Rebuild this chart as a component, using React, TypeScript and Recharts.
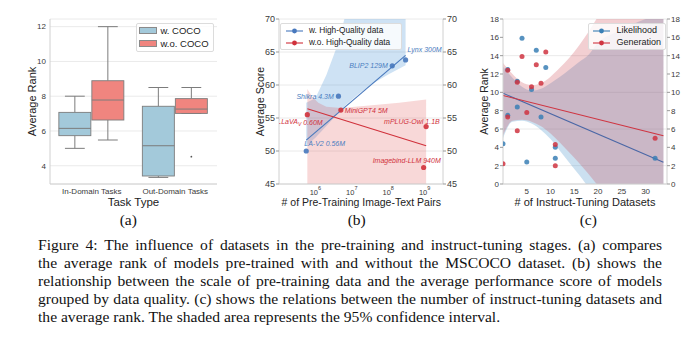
import React from 'react';
import { ComposedChart, Bar, XAxis, YAxis, CartesianGrid, Scatter, Line, Area } from 'recharts';

const SANS = '"Liberation Sans", Arial, Helvetica, sans-serif';
const SERIF = '"Liberation Serif", "Times New Roman", Times, serif';
const GRID = '#e8e8e8';
const FRAME = '#d0d0d0';
const TICK = '#3a3a3a';
const TITLE = '#222';

// ---------- (a) box plot ----------
const taskTypes = ['In-Domain Tasks', 'Out-Domain Tasks'];
const wCocoMin = [5.0, 3.33];
const wCocoQ1 = [5.73, 3.41];
const wCocoMedian = [6.15, 5.15];
const wCocoQ3 = [7.07, 7.42];
const wCocoMax = [8.0, 8.5];
const wCocoOutliers: number[][] = [[], []];
const woCocoMin = [5.48, 7.01];
const woCocoQ1 = [6.63, 7.01];
const woCocoMedian = [7.78, 7.26];
const woCocoQ3 = [8.89, 7.86];
const woCocoMax = [12.0, 8.5];
const woCocoOutliers: number[][] = [[], [4.52]];
const rankTicksA = [4, 6, 8, 10, 12];

// ---------- (b) pre-training scale ----------
const hqNames = ['LA-V2 0.56M', 'Shikra 4.3M', 'BLIP2 129M', 'Lynx 300M'];
const hqPairs = [5.6e5, 4.3e6, 1.29e8, 3.0e8];
const hqScore = [50.0, 58.3, 62.9, 63.8];
const lqNames = ['LLaVA_V 0.60M', 'MiniGPT4 5M', 'mPLUG-Owl 1.1B', 'Imagebind-LLM 940M'];
const lqPairs = [6.0e5, 5.0e6, 1.1e9, 9.4e8];
const lqScore = [55.5, 56.2, 53.7, 47.5];
const hqFitPairs = [5.6e5, 3.0e8];
const hqFitScore = [51.65, 64.5];
const lqFitPairs = [6.0e5, 1.1e9];
const lqFitScore = [56.4, 50.8];
const hqBandPairs = [5.6e5, 1e6, 2e6, 4e6, 7e6, 1.5e7, 4e7, 1e8, 3e8];
const hqBandLow = [50.8, 52.0, 53.8, 55.6, 57.0, 58.6, 60.3, 61.6, 63.0];
const hqBandHigh = [57.3, 58.0, 61.5, 66.0, 71.0, 76.0, 83.0, 89.0, 96.0];
const lqBandPairs = [6e5, 8e5, 1.2e6, 2e6, 5e6, 3e7, 2e8, 1.1e9];
const lqBandLow = [38, 38, 38, 38, 38, 38, 38, 38];
const lqBandHigh = [59.4, 58.3, 57.3, 56.7, 56.5, 56.9, 57.3, 57.8];
const scoreTicks = [45, 50, 55, 60, 65, 70];
const pairTicks = [1e6, 1e7, 1e8, 1e9];

// ---------- (c) instruct-tuning datasets ----------
const likeDatasets = [0, 1, 1, 3, 3, 4, 5, 6, 7, 8, 9, 11, 11, 32];
const likeRank = [4.4, 7.5, 12.5, 8.4, 11.2, 15.9, 2.4, 10.3, 14.6, 7.3, 12.7, 4.0, 2.8, 2.8];
const genDatasets = [0, 1, 1, 3, 3, 4, 5, 6, 7, 8, 9, 11, 11, 32];
const genRank = [2.2, 12.4, 7.3, 11.1, 5.8, 13.9, 7.8, 10.6, 13.0, 11.0, 14.4, 4.3, 2.0, 5.0];
const fitDatasets = [0, 33.75];
const likeFitRank = [9.9, 2.37];
const genFitRank = [9.65, 5.27];
const bandDatasets = [0, 2, 4, 6, 8, 10, 12, 14, 16, 18, 20, 24, 28, 33.75];
const likeBandLow = [5.0, 6.8, 6.9, 6.6, 5.9, 4.9, 3.6, 2.3, 1.0, -0.4, -1.9, -5, -8.5, -14];
const likeBandHigh = [12.8, 11.6, 10.6, 10.2, 10.4, 11.0, 11.7, 12.5, 13.3, 14.1, 15.4, 16.6, 17.6, 18.6];
const genBandLow = [5.3, 6.9, 7.0, 6.8, 6.3, 5.5, 4.5, 3.4, 2.3, 1.1, -0.2, -2.8, -5.5, -9.5];
const genBandHigh = [13.2, 12.0, 11.1, 10.8, 11.0, 11.7, 12.7, 13.8, 15.1, 16.6, 18.3, 22, 26, 32];
const rankTicksC = [0, 2, 4, 6, 8, 10, 12, 14, 16, 18];
const datasetTicks = [5, 10, 15, 20, 25, 30];

const captionLines = [
  'Figure 4:  The influence of datasets in the pre-training and instruct-tuning stages.  (a) compares',
  'the average rank of models pre-trained with and without the MSCOCO dataset.  (b) shows the',
  'relationship between the scale of pre-training data and the average performance score of models',
  'grouped by data quality. (c) shows the relations between the number of instruct-tuning datasets and',
  'the average rank. The shaded area represents the 95% confidence interval.',
];

// ---------- built tables ----------
const boxData = taskTypes.map((t, i) => ({
  task: t,
  w: { min: wCocoMin[i], q1: wCocoQ1[i], median: wCocoMedian[i], q3: wCocoQ3[i], max: wCocoMax[i], outliers: wCocoOutliers[i] },
  wo: { min: woCocoMin[i], q1: woCocoQ1[i], median: woCocoMedian[i], q3: woCocoQ3[i], max: woCocoMax[i], outliers: woCocoOutliers[i] },
}));
const zip = (xs: number[], ys: number[], names?: string[]) => xs.map((x, i) => ({ x, y: ys[i], name: names ? names[i] : '' }));
const band = (xs: number[], lo: number[], hi: number[]) => xs.map((x, i) => ({ x, lo: lo[i], hi: hi[i] }));

const hqPts = zip(hqPairs, hqScore, hqNames);
const lqPts = zip(lqPairs, lqScore, lqNames);
const hqFit = zip(hqFitPairs, hqFitScore);
const lqFit = zip(lqFitPairs, lqFitScore);
const hqBand = band(hqBandPairs, hqBandLow, hqBandHigh);
const lqBand = band(lqBandPairs, lqBandLow, lqBandHigh);

const likePts = zip(likeDatasets, likeRank);
const genPts = zip(genDatasets, genRank);
const likeFit = zip(fitDatasets, likeFitRank);
const genFit = zip(fitDatasets, genFitRank);
const likeBand = band(bandDatasets, likeBandLow, likeBandHigh);
const genBand = band(bandDatasets, genBandLow, genBandHigh);

// label placement (style only): offset of label start from the point, in px
const labelOffset: Record<string, [number, number]> = {
  'LA-V2 0.56M': [-2, -8],
  'Shikra 4.3M': [-42, 0],
  'BLIP2 129M': [-43, 0],
  'Lynx 300M': [2, -10],
  'LLaVA_V 0.60M': [-30, 7],
  'MiniGPT4 5M': [4, 0],
  'mPLUG-Owl 1.1B': [-42, -5],
  'Imagebind-LLM 940M': [-51, -7],
};

const C_BOX_BLUE = '#a3c9da';
const C_BOX_RED = '#f0857f';
const C_B_BLUE = '#4778bd';
const C_B_RED = '#d0313b';
const C_C_BLUE = '#3a7fb5';
const C_C_RED = '#cf3441';

function boxShape(key: 'w' | 'wo', fill: string) {
  return (props: any) => {
    const { x, y, width, height, payload } = props;
    const s = payload[key];
    const top = Math.min(y, y + height);
    const bot = Math.max(y, y + height);
    const ppu = (bot - top) / (s.q3 - s.q1);
    const py = (v: number) => top + (s.q3 - v) * ppu;
    const cx = x + width / 2;
    const half = width * 0.3;
    const edge = '#7c7c7c';
    return (
      <g>
        <line x1={cx} x2={cx} y1={py(s.max)} y2={top} stroke={edge} strokeWidth={1} />
        <line x1={cx} x2={cx} y1={bot} y2={py(s.min)} stroke={edge} strokeWidth={1} />
        <line x1={cx - half} x2={cx + half} y1={py(s.max)} y2={py(s.max)} stroke={edge} strokeWidth={1} />
        <line x1={cx - half} x2={cx + half} y1={py(s.min)} y2={py(s.min)} stroke={edge} strokeWidth={1} />
        <rect x={x + 0.5} y={top} width={width - 1} height={bot - top} fill={fill} stroke={edge} strokeWidth={0.9} />
        <line x1={x + 0.5} x2={x + width - 0.5} y1={py(s.median)} y2={py(s.median)} stroke={edge} strokeWidth={1} />
        {s.outliers.map((o: number, i: number) => (
          <circle key={i} cx={cx} cy={py(o)} r={0.9} fill="#555" />
        ))}
      </g>
    );
  };
}

const dot = (color: string, r: number, op = 0.9) => (p: any) =>
  <circle cx={p.cx} cy={p.cy} r={r} fill={color} fillOpacity={op} />;

const labelShape = (color: string) => (p: any) => {
  const name: string = p.payload.name;
  const [dx, dy] = labelOffset[name] || [3, 0];
  const common = { fill: color, fontSize: 7, fontStyle: 'italic', fontFamily: SANS } as any;
  if (name.includes('_')) {
    const [base, rest] = name.split('_');
    const [sub, ...tail] = rest.split(' ');
    return (
      <text x={p.cx + dx} y={p.cy + dy} dominantBaseline="central" {...common}>
        {base}
        <tspan fontSize={5} dy={2}>{sub}</tspan>
        <tspan dy={-2}>{' ' + tail.join(' ')}</tspan>
      </text>
    );
  }
  return (
    <text x={p.cx + dx} y={p.cy + dy} dominantBaseline="central" {...common}>{name}</text>
  );
};

const PowerTick = (props: any) => {
  const { x, y, payload } = props;
  const e = Math.round(Math.log10(payload.value));
  return (
    <text x={x} y={y + 10.5} textAnchor="middle" fill={TICK} fontFamily={SANS} fontSize={7.5}>
      10<tspan fontSize={5.5} dy={-4.5}>{e}</tspan>
    </text>
  );
};

const tickStyle = (fs: number) => ({ fontSize: fs, fill: TICK, fontFamily: SANS });

function PanelA() {
  return (
    <div style={{ position: 'absolute', left: 0, top: 0 }}>
      <ComposedChart width={225} height={215} data={boxData} margin={{ top: 19, right: 8, bottom: 0, left: 0 }} barCategoryGap="10%" barGap={0}>
        <CartesianGrid vertical={false} stroke={GRID} strokeWidth={0.9} />
        <XAxis dataKey="task" tickLine={false} tickSize={3} tickMargin={1} height={31} axisLine={{ stroke: FRAME }} tick={tickStyle(8)} interval={0} />
        <XAxis xAxisId="t" dataKey="task" orientation="top" height={0} tick={false} tickLine={false} axisLine={{ stroke: FRAME }} />
        <YAxis domain={[2.95, 12.44]} ticks={rankTicksA} width={50} tickLine={false} tickSize={3} tickMargin={1} axisLine={{ stroke: FRAME }} tick={tickStyle(8)} allowDataOverflow />
        <YAxis yAxisId="r" orientation="right" domain={[2.95, 12.44]} width={0} tick={false} tickLine={false} axisLine={{ stroke: FRAME }} />
        <Bar dataKey={(d: any) => [d.w.q1, d.w.q3]} shape={boxShape('w', C_BOX_BLUE)} isAnimationActive={false} />
        <Bar dataKey={(d: any) => [d.wo.q1, d.wo.q3]} shape={boxShape('wo', C_BOX_RED)} isAnimationActive={false} />
      </ComposedChart>
    </div>
  );
}

function PanelB() {
  const dom: [number, number] = [45, 70];
  const xdom: [number, number] = [1e5, 3.2e9];
  return (
    <div style={{ position: 'absolute', left: 230, top: 0 }}>
      <ComposedChart width={240} height={215} margin={{ top: 19, right: 1, bottom: 0, left: 0 }}>
        <CartesianGrid vertical={false} stroke={GRID} strokeWidth={0.9} />
        <XAxis dataKey="x" type="number" scale="log" domain={xdom} ticks={pairTicks} interval={0} allowDataOverflow height={31} tickLine={false} tickSize={0} tickMargin={0} axisLine={{ stroke: FRAME }} tick={<PowerTick />} />
        <XAxis xAxisId="t" dataKey="x" type="number" scale="log" domain={xdom} allowDataOverflow orientation="top" height={0} tick={false} tickLine={false} axisLine={{ stroke: FRAME }} />
        <YAxis domain={dom} ticks={scoreTicks} allowDataOverflow width={49} tickSize={3} tickMargin={1} tickLine={{ stroke: '#999' }} axisLine={{ stroke: FRAME }} tick={tickStyle(9)} />
        <YAxis yAxisId="r" orientation="right" domain={dom} ticks={scoreTicks} allowDataOverflow width={26} tickSize={3} tickMargin={1} tickLine={{ stroke: '#999' }} axisLine={{ stroke: FRAME }} tick={tickStyle(9)} />
        <Scatter data={hqPts} dataKey="y" shape={dot(C_B_BLUE, 2.6)} isAnimationActive={false} />
        <Area data={hqBand} dataKey={(d: any) => [d.lo, d.hi]} type="linear" stroke="none" fill="#3c8cd2" fillOpacity={0.25} isAnimationActive={false} />
        <Scatter data={lqPts} dataKey="y" shape={dot(C_B_RED, 2.6)} isAnimationActive={false} />
        <Area data={lqBand} dataKey={(d: any) => [d.lo, d.hi]} type="linear" stroke="none" fill="#dc3c3c" fillOpacity={0.2} isAnimationActive={false} />
        <Line data={hqFit} dataKey="y" type="linear" stroke={C_B_BLUE} strokeWidth={1.1} dot={false} isAnimationActive={false} />
        <Line data={lqFit} dataKey="y" type="linear" stroke={C_B_RED} strokeWidth={1.1} dot={false} isAnimationActive={false} />
        <Scatter data={hqPts} dataKey="y" shape={labelShape('#4a7dc0')} isAnimationActive={false} />
        <Scatter data={lqPts} dataKey="y" shape={labelShape('#d0313b')} isAnimationActive={false} />
      </ComposedChart>
    </div>
  );
}

function PanelC() {
  const dom: [number, number] = [0, 18];
  const xdom: [number, number] = [0, 34.5];
  return (
    <div style={{ position: 'absolute', left: 460, top: 0 }}>
      <ComposedChart width={240} height={215} margin={{ top: 19, right: 7, bottom: 0, left: 0 }}>
        <CartesianGrid vertical={false} stroke={GRID} strokeWidth={0.9} />
        <XAxis dataKey="x" type="number" domain={xdom} ticks={datasetTicks} interval={0} allowDataOverflow height={31} tickLine={false} tickSize={3} tickMargin={1} axisLine={{ stroke: FRAME }} tick={tickStyle(8)} />
        <XAxis xAxisId="t" dataKey="x" type="number" domain={xdom} allowDataOverflow orientation="top" height={0} tick={false} tickLine={false} axisLine={{ stroke: FRAME }} />
        <YAxis domain={dom} ticks={rankTicksC} allowDataOverflow width={43} tickSize={3} tickMargin={1} tickLine={{ stroke: '#999' }} axisLine={{ stroke: FRAME }} tick={tickStyle(8)} />
        <YAxis yAxisId="r" orientation="right" domain={dom} ticks={rankTicksC} allowDataOverflow width={26} tickSize={3} tickMargin={1} tickLine={{ stroke: '#999' }} axisLine={{ stroke: FRAME }} tick={tickStyle(8)} />
        <Scatter data={likePts} dataKey="y" shape={dot(C_C_BLUE, 2.5, 0.85)} isAnimationActive={false} />
        <Area data={likeBand} dataKey={(d: any) => [d.lo, d.hi]} type="monotone" stroke="none" fill="#4691c8" fillOpacity={0.28} isAnimationActive={false} />
        <Scatter data={genPts} dataKey="y" shape={dot(C_C_RED, 2.5, 0.85)} isAnimationActive={false} />
        <Area data={genBand} dataKey={(d: any) => [d.lo, d.hi]} type="monotone" stroke="none" fill="#c83741" fillOpacity={0.24} isAnimationActive={false} />
        <Line data={likeFit} dataKey="y" type="linear" stroke="#4a67a6" strokeWidth={1.1} dot={false} isAnimationActive={false} />
        <Line data={genFit} dataKey="y" type="linear" stroke={C_C_RED} strokeWidth={1.1} dot={false} isAnimationActive={false} />
      </ComposedChart>
    </div>
  );
}

const legendBox = (left: number, top: number, w: number, h: number): React.CSSProperties => ({
  position: 'absolute', left, top, width: w, height: h, boxSizing: 'border-box',
  background: 'rgba(255,255,255,0.82)', border: '1px solid #dcdcdc', borderRadius: 2,
});

function LineKey({ color, y, x1, x2, tx, label, fs }: any) {
  return (
    <>
      <svg style={{ position: 'absolute', left: x1, top: y - 3 }} width={x2 - x1} height={6}>
        <line x1={0} x2={x2 - x1} y1={3} y2={3} stroke={color} strokeWidth={1.1} />
        <circle cx={(x2 - x1) / 2} cy={3} r={2.4} fill={color} />
      </svg>
      <div style={{ position: 'absolute', left: tx, top: y - fs * 0.6, fontSize: fs, lineHeight: `${fs * 1.2}px`, fontFamily: SANS, color: TITLE, whiteSpace: 'nowrap' }}>{label}</div>
    </>
  );
}

function Overlay() {
  const t = { fontFamily: SANS, fill: TITLE } as any;
  return (
    <>
      {/* legend (a) */}
      <div style={legendBox(135.5, 23, 78, 29)} />
      <div style={{ position: 'absolute', left: 139, top: 27.3, width: 17.5, height: 6.7, background: C_BOX_BLUE, border: '0.8px solid #8a8a8a', boxSizing: 'border-box' }} />
      <div style={{ position: 'absolute', left: 139, top: 40, width: 17.5, height: 6.7, background: C_BOX_RED, border: '0.8px solid #8a8a8a', boxSizing: 'border-box' }} />
      <div style={{ position: 'absolute', left: 160.5, top: 30.7 - 5.7, fontSize: 9.5, lineHeight: '11.4px', fontFamily: SANS, color: TITLE, whiteSpace: 'nowrap' }}>w. COCO</div>
      <div style={{ position: 'absolute', left: 160.5, top: 43.3 - 5.7, fontSize: 9.5, lineHeight: '11.4px', fontFamily: SANS, color: TITLE, whiteSpace: 'nowrap' }}>w.o. COCO</div>

      {/* legend (b) */}
      <div style={legendBox(280, 23, 122, 26.5)} />
      <LineKey color={C_B_BLUE} y={30.7} x1={286} x2={303} tx={309} label="w. High-Quality data" fs={8.3} />
      <LineKey color={C_B_RED} y={43.3} x1={286} x2={303} tx={309} label="w.o. High-Quality data" fs={8.3} />

      {/* legend (c) */}
      <div style={legendBox(588, 23, 78, 27)} />
      <LineKey color={C_C_BLUE} y={30.7} x1={593} x2={610} tx={616.5} label="Likelihood" fs={9} />
      <LineKey color={C_C_RED} y={42.7} x1={593} x2={610} tx={616.5} label="Generation" fs={9} />

      <svg width={700} height={337} style={{ position: 'absolute', left: 0, top: 0, pointerEvents: 'none' }}>
        <text {...t} fontSize={11} x={31.7} y={101.5} textAnchor="middle" dominantBaseline="central" transform="rotate(-90 31.7 101.5)">Average Rank</text>
        <text {...t} fontSize={11.5} x={133.5} y={201.5} textAnchor="middle" dominantBaseline="central">Task Type</text>
        <text {...t} fontSize={10.5} x={259.5} y={101.5} textAnchor="middle" dominantBaseline="central" transform="rotate(-90 259.5 101.5)">Average Score</text>
        <text {...t} fontSize={10.5} x={361.3} y={202} textAnchor="middle" dominantBaseline="central"># of Pre-Training Image-Text Pairs</text>
        <text {...t} fontSize={10.5} x={484} y={101.5} textAnchor="middle" dominantBaseline="central" transform="rotate(-90 484 101.5)">Average Rank</text>
        <text {...t} fontSize={11} x={585} y={201.5} textAnchor="middle" dominantBaseline="central"># of Instruct-Tuning Datasets</text>
        <text fontFamily={SERIF} fill="#111" fontSize={15.5} x={128.3} y={219} textAnchor="middle" dominantBaseline="central">(a)</text>
        <text fontFamily={SERIF} fill="#111" fontSize={15.5} x={356.7} y={219} textAnchor="middle" dominantBaseline="central">(b)</text>
        <text fontFamily={SERIF} fill="#111" fontSize={15.5} x={588.3} y={219} textAnchor="middle" dominantBaseline="central">(c)</text>
      </svg>

      {captionLines.map((line, i) => (
        <div key={i} style={{
          position: 'absolute', left: 38, top: 236 + i * 18, width: 624, height: 18, lineHeight: '18px',
          fontFamily: SERIF, fontSize: 15.6, color: '#111', whiteSpace: 'nowrap',
          textAlign: 'justify', textAlignLast: i < captionLines.length - 1 ? 'justify' : 'left',
        } as React.CSSProperties}>{line}</div>
      ))}
    </>
  );
}

export default function App() {
  return (
    <div style={{ position: 'absolute', left: 0, top: 0, width: 700, height: 337, background: '#fff', overflow: 'hidden' }}>
      <PanelA />
      <PanelB />
      <PanelC />
      <Overlay />
    </div>
  );
}
